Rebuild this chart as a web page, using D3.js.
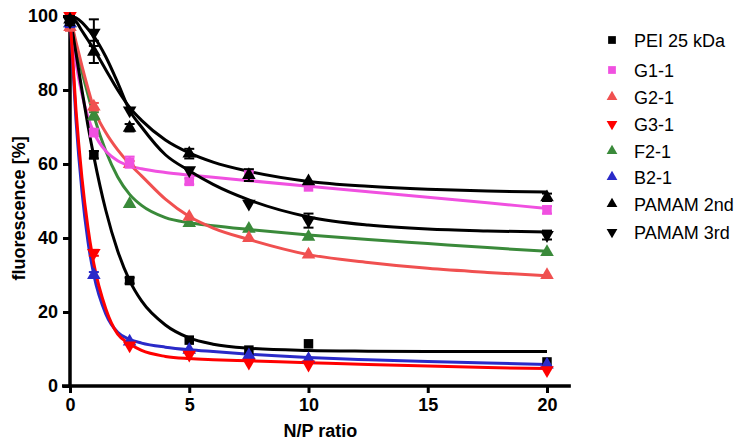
<!DOCTYPE html>
<html><head><meta charset="utf-8">
<script src="https://cdn.jsdelivr.net/npm/d3@7"></script>
<style>body{margin:0;background:#fff}svg{display:block}text{font-family:"Liberation Sans",Arial,sans-serif}</style>
</head><body>
<svg id="c" width="749" height="447"></svg>
<script>
// ---- data ----
const npRatio = [0, 1, 2.5, 5, 7.5, 10, 20];
const seriesNames = ["PEI 25 kDa","G1-1","G2-1","G3-1","F2-1","B2-1","PAMAM 2nd","PAMAM 3rd"];
const seriesColors = ["#000000","#f050e0","#f05050","#ff0000","#3a8a3a","#2a2ac8","#000000","#000000"];
const seriesSymbols = ["square","square","up","down","up","up","up","down"];
const pei      = [98.5, 62.5, 28.5, 12.4,  9.7, 11.4,  6.5];
const g11      = [99.0, 68.5, 60.5, 55.3, 57.0, 53.8, 47.6];
const g21      = [97.0, 75.5, 60.0, 45.7, 40.0, 35.5, 30.0];
const g31      = [100,  36.0, 11.0,  8.5,  6.3,  5.8,  4.3];
const f21      = [98.0, 73.0, 49.2, 44.0, 42.5, 40.3, 36.2];
const b21      = [98.0, 30.0, 12.0,  9.8,  8.3,  7.3,  5.8];
const pamam2   = [99.0, 90.3, 69.8, 62.8, 57.0, 55.3, 51.0];
const pamam3   = [98.5, 95.5, 74.5, 58.3, 49.3, 44.7, 40.8];
const errPei   = [1.0, 1.0, 0.8, 0.6, 0.5, 0.5, 0.5];
const errG11   = [1.0, 1.0, 1.5, 0.8, 1.2, 0.6, 1.0];
const errG21   = [1.0, 1.0, 0.8, 0.6, 0.5, 0.5, 0.5];
const errG31   = [0.5, 0.8, 0.6, 0.5, 0.5, 0.5, 0.5];
const errF21   = [1.0, 1.0, 0.6, 0.5, 0.5, 0.5, 0.5];
const errB21   = [1.0, 0.8, 0.5, 0.5, 0.5, 0.5, 0.5];
const errPam2  = [1.0, 3.0, 1.0, 1.3, 1.6, 0.6, 1.0];
const errPam3  = [1.0, 3.6, 0.6, 0.6, 0.6, 1.9, 1.2];
// fitted curves
const fitX       = [0, 0.25, 0.5, 0.75, 1, 1.5, 2, 2.5, 3, 4, 5, 6, 7.5, 10, 12.5, 15, 17.5, 20];
const fitPei     = [100, 90, 80, 70.5, 62, 47.5, 36.5, 28.5, 23, 16.5, 13, 11.3, 10.2, 9.6, 9.4, 9.3, 9.3, 9.3];
const fitG11     = [100, 87.4, 78.9, 72.8, 68.5, 63.5, 60.9, 59.5, 58.7, 57.7, 57, 56.4, 55.5, 54, 52.5, 51, 49.5, 48];
const fitG21     = [100, 93, 86.5, 80.5, 75, 68.5, 63.8, 60, 56.8, 50.5, 45.8, 42.7, 39.6, 35.5, 33.4, 31.8, 30.7, 29.8];
const fitG31     = [100, 74.7, 56.3, 42.9, 33, 20.9, 14.0, 11.4, 9.6, 8.0, 7.4, 7.1, 6.8, 6.3, 5.8, 5.4, 5.0, 4.7];
const fitF21     = [100, 92, 85, 78.8, 73, 63.5, 56.5, 51.8, 48.8, 45.5, 44.1, 43.3, 42.3, 40.8, 39.6, 38.5, 37.4, 36.4];
const fitB21     = [100, 72, 52.7, 39.2, 30, 19.5, 14.5, 12.6, 11.6, 10.5, 9.8, 9.3, 8.6, 7.7, 7.1, 6.6, 6.2, 5.8];
const fitPam2    = [99.5, 98.5, 96, 93.5, 91, 85.5, 80, 75.3, 71.8, 66.5, 63, 60.5, 58, 55.3, 54, 53.2, 52.7, 52.4];
const fitPam3    = [100, 99.5, 98.3, 96.5, 94.5, 89, 82, 74.5, 70, 62.5, 58.2, 54.5, 50.3, 45.7, 43.5, 42.4, 41.9, 41.6];
const xTicks = [0, 5, 10, 15, 20];
const yTicks = [0, 20, 40, 60, 80, 100];

const means = [pei, g11, g21, g31, f21, b21, pamam2, pamam3];
const errs  = [errPei, errG11, errG21, errG31, errF21, errB21, errPam2, errPam3];
const fits  = [fitPei, fitG11, fitG21, fitG31, fitF21, fitB21, fitPam2, fitPam3];

// ---- chart ----
const svg = d3.select("#c");
const x = d3.scaleLinear().domain([0, 20]).range([70, 547]);
const y = d3.scaleLinear().domain([0, 100]).range([386, 16]);

const symType = s => s === "square" ? d3.symbolSquare : d3.symbolTriangle;
function marker(sel, s, size, col) {
  sel.append("path")
    .attr("d", d3.symbol().type(symType(s)).size(size)())
    .attr("fill", col)
    .attr("transform", s === "down" ? "rotate(180)" : null);
}

// axes
const yAxis = d3.axisLeft(y).tickValues(yTicks).tickSize(7).tickPadding(5);
const xAxis = d3.axisBottom(x).tickValues(xTicks).tickSize(7).tickPadding(5);
const gy = svg.append("g").attr("transform", "translate(70,0)").call(yAxis);
const gx = svg.append("g").attr("transform", "translate(0,386)").call(xAxis);
[gy, gx].forEach(g => {
  g.select(".domain").remove();
  g.selectAll(".tick line").attr("stroke", "#000").attr("stroke-width", 3);
  g.selectAll(".tick text").attr("fill", "#000").style("font-size", "18px").style("font-weight", "bold");
});
svg.append("line").attr("x1", 70).attr("x2", 70).attr("y1", y(100) - 2).attr("y2", 387.5)
  .attr("stroke", "#000").attr("stroke-width", 3.5);
svg.append("line").attr("x1", 62).attr("x2", x(21)).attr("y1", 386).attr("y2", 386)
  .attr("stroke", "#000").attr("stroke-width", 3.5);

svg.append("text").attr("x", x(10.5)).attr("y", 437).attr("text-anchor", "middle")
  .style("font-size", "18px").style("font-weight", "bold").text("N/P ratio");
svg.append("text").attr("transform", "translate(25," + y(48) + ") rotate(-90)")
  .attr("text-anchor", "middle").style("font-size", "18px").style("font-weight", "bold")
  .text("fluorescence [%]");

// curves
const line = d3.line().x((d, i) => x(fitX[i])).y(d => y(d)).curve(d3.curveMonotoneX);
const order = [4, 2, 1, 0, 5, 3, 6, 7];
order.forEach(k => {
  svg.append("path").datum(fits[k]).attr("d", line)
    .attr("fill", "none").attr("stroke", seriesColors[k]).attr("stroke-width", 3);
});

// error bars and points
order.forEach(k => {
  const g = svg.append("g");
  means[k].forEach((v, i) => {
    const cx = x(npRatio[i]);
    const e = errs[k][i];
    if (e > 0.7) {
      g.append("line").attr("x1", cx).attr("x2", cx).attr("y1", y(v - e)).attr("y2", y(v + e))
        .attr("stroke", seriesColors[k]).attr("stroke-width", 2);
      [v - e, v + e].forEach(t => g.append("line").attr("x1", cx - 5).attr("x2", cx + 5)
        .attr("y1", y(t)).attr("y2", y(t)).attr("stroke", seriesColors[k]).attr("stroke-width", 2));
    }
    const m = g.append("g").attr("transform", "translate(" + cx + "," + y(v) + ")");
    marker(m, seriesSymbols[k], seriesSymbols[k] === "square" ? 90 : 80, seriesColors[k]);
  });
});

// legend
const legY = [40, 70, 97, 124, 151, 177, 204, 232];
seriesNames.forEach((n, k) => {
  const m = svg.append("g").attr("transform", "translate(612," + legY[k] + ")");
  marker(m, seriesSymbols[k], seriesSymbols[k] === "square" ? 60 : 50, seriesColors[k]);
  svg.append("text").attr("x", 634).attr("y", legY[k] + 6.5).style("font-size", "18px").attr("fill", "#000").text(n);
});
</script>
</body></html>
